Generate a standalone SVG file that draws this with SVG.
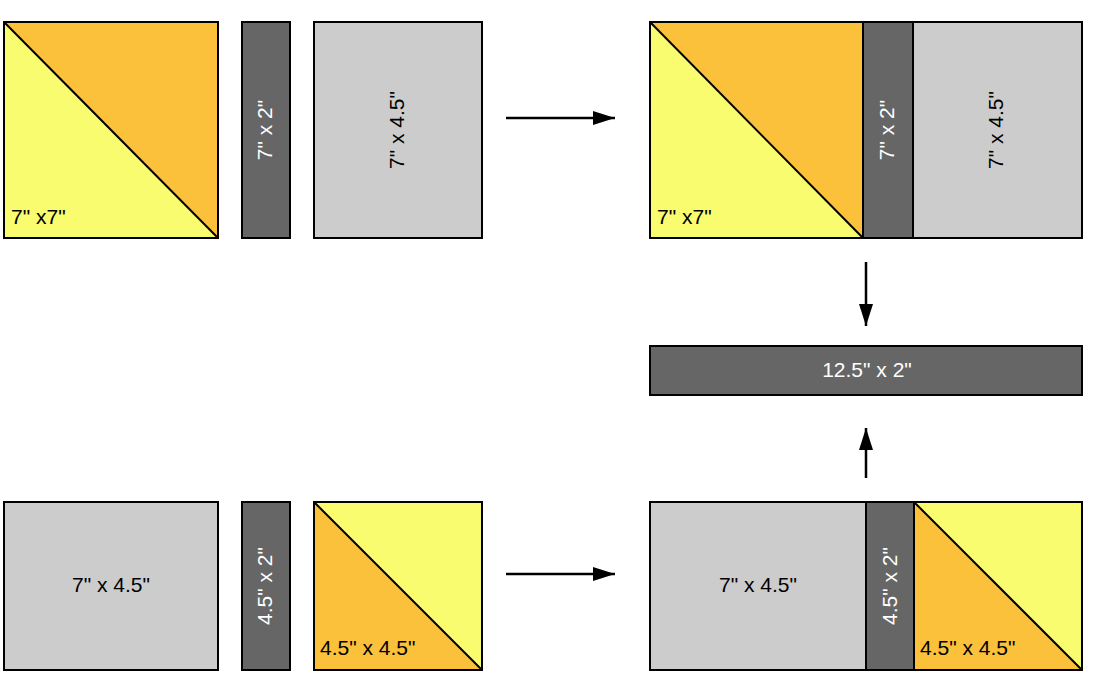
<svg xmlns="http://www.w3.org/2000/svg" width="1098" height="675" viewBox="0 0 1098 675">
<defs>
<style>
.p{stroke:#000;stroke-width:2}
.y{fill:#F9FC6E}
.o{fill:#FBC13B}
.d{fill:#666666}
.g{fill:#CCCCCC}
.t{font-family:"Liberation Sans",Arial,sans-serif;font-size:21px;fill:#000}
.w{fill:#fff}
.c{text-anchor:middle}
.ln{stroke:#000;stroke-width:2.5;fill:none}
</style>
<marker id="ah" viewBox="0 0 22 14" refX="22" refY="7" markerWidth="22" markerHeight="14" markerUnits="userSpaceOnUse" orient="auto">
<path d="M0,0 L22,7 L0,14 Z" fill="#000"/>
</marker>
</defs>
<rect width="1098" height="675" fill="#fff"/>

<g id="hst-top">
<rect class="y" x="4" y="22" width="214" height="216"/>
<polygon class="o" points="4,22 218,22 218,238"/>
<rect x="4" y="22" width="214" height="216" fill="none" class="p"/>
<line class="p" x1="4" y1="22" x2="218" y2="238"/>
<text class="t" x="11" y="224">7" x7"</text>
</g>
<g id="strip-top">
<rect class="p d" x="242" y="22" width="48" height="216"/>
<text class="t w c" transform="translate(272,130) rotate(-90)">7" x 2"</text>
</g>
<g id="grey-top">
<rect class="p g" x="314" y="22" width="168" height="216"/>
<text class="t c" transform="translate(404,130) rotate(-90)">7" x 4.5"</text>
</g>

<g id="assembled-top">
<rect class="y" x="650" y="22" width="213" height="216"/>
<polygon class="o" points="650,22 863,22 863,238"/>
<rect class="p" fill="none" x="650" y="22" width="213" height="216"/>
<line class="p" x1="650" y1="22" x2="863" y2="238"/>
<text class="t" x="657" y="224">7" x7"</text>
<rect class="p d" x="863" y="22" width="50" height="216"/>
<text class="t w c" transform="translate(894,130) rotate(-90)">7" x 2"</text>
<rect class="p g" x="913" y="22" width="169" height="216"/>
<text class="t c" transform="translate(1003,130) rotate(-90)">7" x 4.5"</text>
</g>

<g id="bar">
<rect class="p d" x="650" y="346" width="432" height="49"/>
<text class="t w c" x="867" y="377">12.5" x 2"</text>
</g>

<g id="grey-bottom">
<rect class="p g" x="4" y="502" width="214" height="168"/>
<text class="t c" x="111" y="592">7" x 4.5"</text>
</g>
<g id="strip-bottom">
<rect class="p d" x="242" y="502" width="48" height="168"/>
<text class="t w c" transform="translate(272,586) rotate(-90)">4.5" x 2"</text>
</g>
<g id="hst-bottom">
<rect class="o" x="314" y="502" width="168" height="168"/>
<polygon class="y" points="314,502 482,502 482,670"/>
<rect class="p" fill="none" x="314" y="502" width="168" height="168"/>
<line class="p" x1="314" y1="502" x2="482" y2="670"/>
<text class="t" x="320" y="655">4.5" x 4.5"</text>
</g>

<g id="assembled-bottom">
<rect class="p g" x="650" y="502" width="216" height="168"/>
<text class="t c" x="758" y="592">7" x 4.5"</text>
<rect class="p d" x="866" y="502" width="48" height="168"/>
<text class="t w c" transform="translate(897,586) rotate(-90)">4.5" x 2"</text>
<rect class="o" x="914" y="502" width="168" height="168"/>
<polygon class="y" points="914,502 1082,502 1082,670"/>
<rect class="p" fill="none" x="914" y="502" width="168" height="168"/>
<line class="p" x1="914" y1="502" x2="1082" y2="670"/>
<text class="t" x="920" y="655">4.5" x 4.5"</text>
</g>

<g id="connectors">
<line class="ln" x1="506" y1="118" x2="615" y2="118" marker-end="url(#ah)"/>
<line class="ln" x1="506" y1="574" x2="615" y2="574" marker-end="url(#ah)"/>
<line class="ln" x1="866" y1="262" x2="866" y2="326" marker-end="url(#ah)"/>
<line class="ln" x1="866" y1="478" x2="866" y2="428" marker-end="url(#ah)"/>
</g>
</svg>
